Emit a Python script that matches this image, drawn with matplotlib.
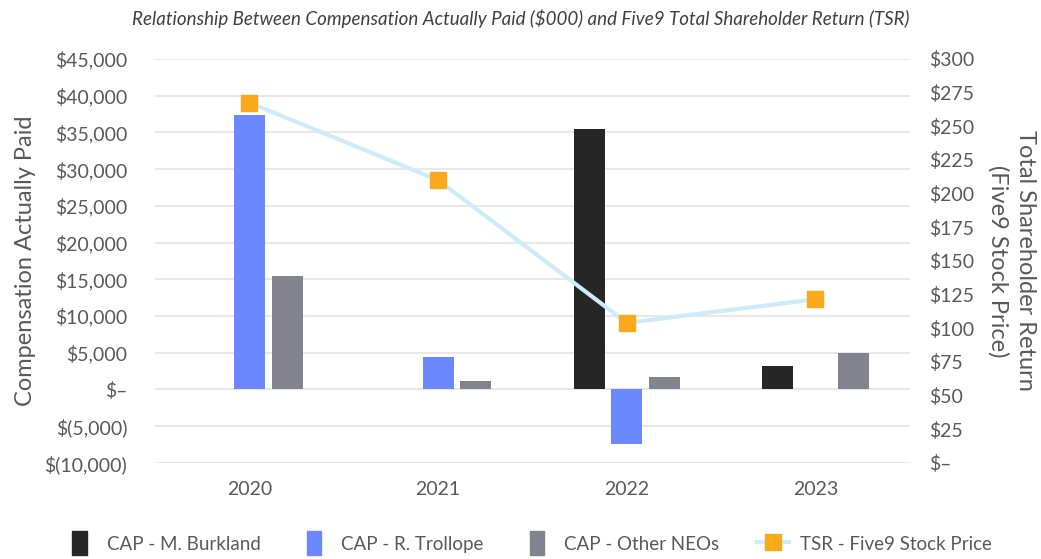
import matplotlib
matplotlib.use("Agg")
import matplotlib.pyplot as plt
import numpy as np
from matplotlib.lines import Line2D
from matplotlib.patches import Patch, Rectangle
from matplotlib.legend_handler import HandlerPatch

years = ["2020", "2021", "2022", "2023"]
cap_burkland = [0, 0, 35400, 3200]
cap_trollope = [37400, 4400, -7400, 0]
cap_other = [15400, 1200, 1700, 4900]
tsr = [267.5, 210, 104, 121.5]

left_ticks = [-10000, -5000, 0, 5000, 10000, 15000, 20000, 25000, 30000, 35000, 40000, 45000]
right_ticks = list(range(0, 301, 25))

c_burk = "#262626"
c_troll = "#6B88FE"
c_other = "#82838E"
c_line = "#CDEBF8"
c_mark = "#F9A91B"
txt = "#595959"

plt.rcParams['font.family'] = ['Lato', 'DejaVu Sans']

fig = plt.figure(figsize=(10.41, 5.59), dpi=100)
ax = fig.add_axes([0.149, 0.172, 0.725, 0.7225])
ax2 = ax.twinx()

x = np.arange(len(years))
w = 0.165
off = 0.2
ax.bar(x - off, cap_burkland, w, color=c_burk, zorder=3)
ax.bar(x, cap_trollope, w, color=c_troll, zorder=3)
ax.bar(x + off, cap_other, w, color=c_other, zorder=3)

ax.set_ylim(-10000, 45000)
ax.set_xlim(-0.5, 3.5)
ax.set_yticks(left_ticks)

def fmt_left(v):
    if v == 0:
        return "$\u2013"
    if v < 0:
        return "$({:,})".format(-v)
    return "${:,}".format(v)

ax.set_yticklabels([fmt_left(v) for v in left_ticks])
ax.yaxis.grid(True, color="#e8e8e8", linewidth=1.5, zorder=0)
ax.set_axisbelow(True)
ax.set_xticks(x)
ax.set_xticklabels(years)

ax2.plot(x, tsr, color=c_line, linewidth=3, marker="s", markersize=11,
         markerfacecolor=c_mark, markeredgecolor=c_mark, zorder=4)
ax2.set_ylim(0, 300)
ax2.set_yticks(right_ticks)
ax2.set_yticklabels(["$\u2013" if v == 0 else "${}".format(v) for v in right_ticks])

for a in (ax, ax2):
    for s in a.spines.values():
        s.set_visible(False)
    a.tick_params(length=0, labelsize=14, labelcolor=txt)
ax.tick_params(axis="y", pad=20)
ax.tick_params(axis="x", pad=13)
ax2.tick_params(axis="y", pad=14)

ax.set_ylabel("Compensation Actually Paid", fontsize=17, color=txt, labelpad=6)
ax2.set_ylabel("Total Shareholder Return\n(Five9 Stock Price)", fontsize=17, color=txt,
               rotation=270, labelpad=44, linespacing=1.3)

fig.text(0.5, 0.967, "Relationship Between Compensation Actually Paid ($000) and Five9 Total Shareholder Return (TSR)",
         ha="center", va="center", fontsize=13.5, style="italic", color="#404040")


def narrow_rect(legend, orig_handle, xdescent, ydescent, width, height, fontsize):
    rw = 0.45 * width
    return Rectangle((xdescent + (width - rw) / 2 - xdescent * 2, -ydescent - height * 0.25),
                     rw, height * 1.5)


handles = [Patch(color=c_burk), Patch(color=c_troll), Patch(color=c_other),
           Line2D([0], [0], color=c_line, linewidth=3, marker="s", markersize=11,
                  markerfacecolor=c_mark, markeredgecolor=c_mark)]
labels = ["CAP - M. Burkland", "CAP - R. Trollope", "CAP - Other NEOs", "TSR - Five9 Stock Price"]
fig.legend(handles, labels, loc="center", bbox_to_anchor=(0.507, 0.027), ncol=4, frameon=False,
           fontsize=13.5, labelcolor=txt, handlelength=1.7, handleheight=0.9, columnspacing=2.0,
           handletextpad=0.6,
           handler_map={Patch: HandlerPatch(patch_func=narrow_rect)})

fig.savefig("out.png", dpi=100)
